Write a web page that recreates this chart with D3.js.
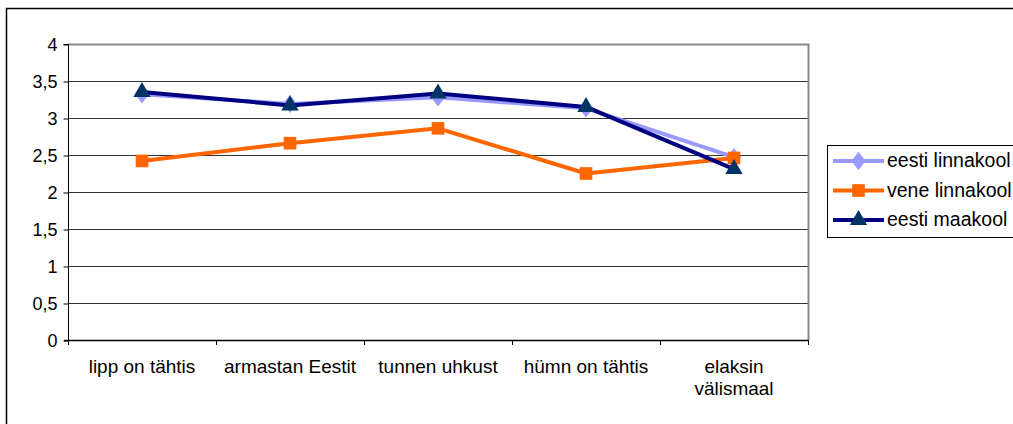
<!DOCTYPE html>
<html><head><meta charset="utf-8">
<script src="https://cdn.jsdelivr.net/npm/d3@7"></script>
<style>body{margin:0;background:#fff}svg{display:block;font-family:"Liberation Sans",Arial,sans-serif}</style>
</head><body>
<script>
const categories = [["lipp on tähtis"],["armastan Eestit"],["tunnen uhkust"],["hümn on tähtis"],["elaksin","välismaal"]];
const seriesNames = ["eesti linnakool","vene linnakool","eesti maakool"];
const eestiLinnakool = [3.32, 3.19, 3.28, 3.13, 2.47];
const veneLinnakool = [2.42, 2.66, 2.86, 2.25, 2.46];
const eestiMaakool = [3.35, 3.17, 3.33, 3.15, 2.31];
const yTicks = [0,0.5,1,1.5,2,2.5,3,3.5,4];
const yTickLabels = ["0","0,5","1","1,5","2","2,5","3","3,5","4"];

const W=1013,H=424;
const FONT="'Liberation Sans', Arial, sans-serif";
const svg=d3.select("body").append("svg").attr("width",W).attr("height",H);
svg.append("rect").attr("x",6.5).attr("y",8.5).attr("width",W+10).attr("height",H+10).attr("fill","#fff").attr("stroke","#000").attr("stroke-width",1.5);

const L=68,R=808,T=44,B=340;
const x=d3.scaleBand().domain(d3.range(categories.length)).range([L,R]);
const y=d3.scaleLinear().domain([0,4]).range([B,T]);

// grid
svg.append("g").selectAll("line").data(yTicks.filter(d=>d>0)).join("line")
 .attr("x1",L).attr("x2",R).attr("y1",d=>Math.round(y(d))+0.5).attr("y2",d=>Math.round(y(d))+0.5)
 .attr("stroke","#333").attr("stroke-width",1);
// plot border right/top
svg.append("path").attr("d",`M${L},${T+0.5}H${R+0.5}V${B}`).attr("fill","none").attr("stroke","#888").attr("stroke-width",2);

// y axis
const ya=svg.append("g").attr("transform",`translate(${L+0.5},0.5)`)
 .call(d3.axisLeft(y).tickValues(yTicks).tickFormat((d,i)=>yTickLabels[i]).tickSize(5).tickPadding(6));
ya.select(".domain").attr("stroke","#000").attr("d",`M-5,${T}H0V${B}`);
ya.selectAll(".tick line").attr("stroke","#000");
ya.selectAll("text").style("font-size","18px").style("font-family",FONT).attr("fill","#000");

// x axis
svg.append("line").attr("x1",L-4).attr("x2",R).attr("y1",B+0.5).attr("y2",B+0.5).attr("stroke","#000").attr("stroke-width",1.5);
const edges=d3.range(categories.length+1).map(i=>L+i*x.step());
svg.append("g").selectAll("line").data(edges).join("line")
 .attr("x1",d=>Math.round(d)+0.5).attr("x2",d=>Math.round(d)+0.5).attr("y1",B).attr("y2",B+5).attr("stroke","#000");
const xl=svg.append("g").selectAll("text").data(categories).join("text")
 .attr("x",(d,i)=>x(i)+x.bandwidth()/2).attr("y",373).attr("text-anchor","middle")
 .style("font-size","19px").style("font-family",FONT).attr("fill","#000");
xl.each(function(d){const t=d3.select(this);d.forEach((s,j)=>t.append("tspan").attr("x",t.attr("x")).attr("dy",j?22:0).text(s));});

const series=[
 {name:seriesNames[0],values:eestiLinnakool,color:"#9999FF",marker:"#9999FF",shape:d3.symbolDiamond,size:120,w:4},
 {name:seriesNames[1],values:veneLinnakool,color:"#FF6600",marker:"#FF6600",shape:d3.symbolSquare,size:160,w:4},
 {name:seriesNames[2],values:eestiMaakool,color:"#000080",marker:"#003366",shape:d3.symbolTriangle,size:130,w:4}
];
const line=d3.line().x((d,i)=>x(i)+x.bandwidth()/2).y(d=>y(d));
series.forEach(s=>{
 svg.append("path").datum(s.values).attr("d",line).attr("fill","none").attr("stroke",s.color).attr("stroke-width",s.w).attr("stroke-linejoin","round");
 svg.append("g").selectAll("path").data(s.values).join("path")
  .attr("transform",(d,i)=>`translate(${x(i)+x.bandwidth()/2},${y(d)})${s.shape===d3.symbolDiamond?" scale(1.2,0.9)":""}`)
  .attr("d",d3.symbol().type(s.shape).size(s.size)).attr("fill",s.marker);
});

// legend
const lg=svg.append("g");
lg.append("rect").attr("x",827.5).attr("y",145.5).attr("width",200).attr("height",92).attr("fill","#fff").attr("stroke","#000");
series.forEach((s,i)=>{
 const cy=161+i*29.5;
 lg.append("line").attr("x1",833).attr("x2",884).attr("y1",cy).attr("y2",cy).attr("stroke",s.color).attr("stroke-width",s.w);
 lg.append("path").attr("transform",`translate(858.5,${cy})${s.shape===d3.symbolDiamond?" scale(1.2,0.9)":""}`).attr("d",d3.symbol().type(s.shape).size(s.size)).attr("fill",s.marker);
 lg.append("text").attr("x",887).attr("y",cy+6).style("font-size","19.5px").style("font-family",FONT).attr("fill","#000").text(s.name);
});
</script>
</body></html>
